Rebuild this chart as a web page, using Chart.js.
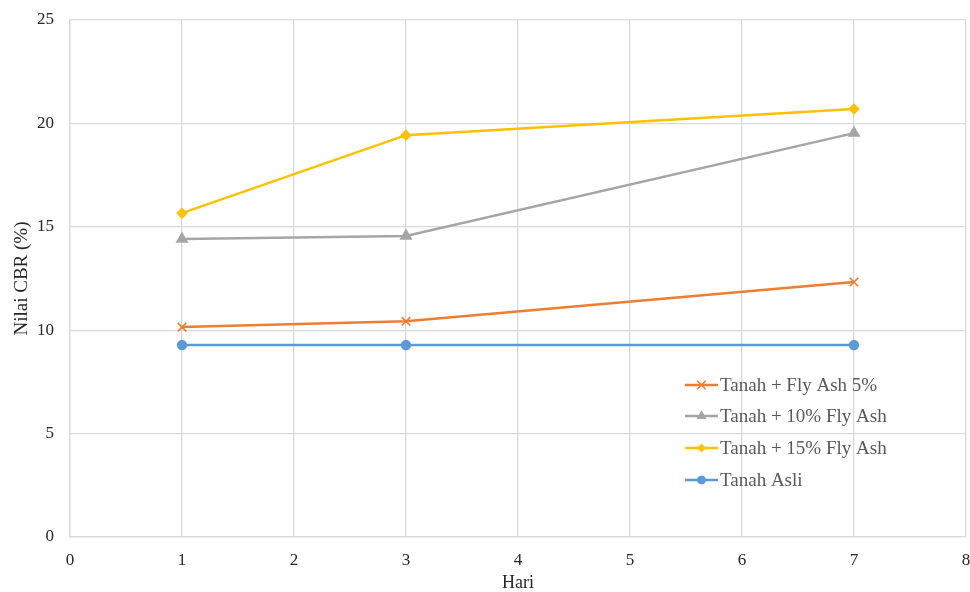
<!DOCTYPE html>
<html>
<head>
<meta charset="utf-8">
<script src="https://cdn.jsdelivr.net/npm/chart.js@4"></script>
<style>
  html, body { margin: 0; padding: 0; background: #ffffff; }
  #wrap { width: 970px; height: 592px; }
</style>
</head>
<body>
<div id="wrap"><canvas id="c" width="970" height="592"></canvas></div>
<script>
const days = [1, 3, 7];
const flyAsh5 = [10.15, 10.43, 12.33];
const flyAsh10 = [14.41, 14.56, 19.53];
const flyAsh15 = [15.66, 19.43, 20.70];
const tanahAsli = [9.28, 9.28, 9.28];
const seriesNames = ['Tanah + Fly Ash 5%', 'Tanah + 10% Fly Ash', 'Tanah + 15% Fly Ash', 'Tanah Asli'];
const xTitle = 'Hari';
const yTitle = 'Nilai CBR (%)';

const FONT = "'Liberation Serif', 'Times New Roman', serif";

function pts(vals) { return days.map((d, i) => ({ x: d, y: vals[i] })); }

const datasets = [
  { label: seriesNames[3], data: pts(tanahAsli), borderColor: '#5B9BD5', backgroundColor: '#5B9BD5', pointStyle: 'circle', pointRadius: 4, borderWidth: 2.5 },
  { label: seriesNames[0], data: pts(flyAsh5), borderColor: '#ED7D31', backgroundColor: '#ED7D31', pointStyle: 'crossRot', pointRadius: 6, pointBorderWidth: 1.6, borderWidth: 2.5 },
  { label: seriesNames[1], data: pts(flyAsh10), borderColor: '#A5A5A5', backgroundColor: '#A5A5A5', pointStyle: 'triangle', pointRadius: 5, borderWidth: 2.5 },
  { label: seriesNames[2], data: pts(flyAsh15), borderColor: '#FFC000', backgroundColor: '#FFC000', pointStyle: 'rectRot', pointRadius: 4, borderWidth: 2.5 }
];

const legendOrder = [1, 2, 3, 0];

const legendPlugin = {
  id: 'insideLegend',
  afterDraw(chart) {
    const ctx = chart.ctx;
    const startX = 685, lineLen = 33;
    const ys = [385, 416, 448, 480];
    ctx.save();
    legendOrder.forEach((di, k) => {
      const ds = chart.data.datasets[di];
      const y = ys[k];
      ctx.strokeStyle = ds.borderColor;
      ctx.lineWidth = 2.5;
      ctx.beginPath();
      ctx.moveTo(startX, y);
      ctx.lineTo(startX + lineLen, y);
      ctx.stroke();
      ctx.fillStyle = ds.backgroundColor;
      ctx.strokeStyle = ds.borderColor;
      ctx.lineWidth = ds.pointBorderWidth || 1;
      Chart.helpers.drawPoint(ctx, {
        pointStyle: ds.pointStyle,
        radius: ds.pointRadius,
        borderWidth: ds.pointBorderWidth || 1,
        rotation: 0
      }, startX + lineLen / 2, y);
      ctx.fillStyle = '#595959';
      ctx.font = '19px ' + FONT;
      ctx.textBaseline = 'middle';
      ctx.textAlign = 'left';
      ctx.fillText(ds.label, startX + lineLen + 2, y + 1);
    });
    ctx.restore();
  }
};

new Chart(document.getElementById('c'), {
  type: 'line',
  data: { datasets },
  options: {
    responsive: false,
    animation: false,
    layout: { autoPadding: false, padding: { top: 20, right: 4, left: 0, bottom: 0 } },
    plugins: { legend: { display: false }, tooltip: { enabled: false } },
    elements: { line: { tension: 0 } },
    scales: {
      x: {
        type: 'linear', min: 0, max: 8,
        ticks: { stepSize: 1, color: '#262626', font: { family: FONT, size: 17 }, padding: 13 },
        grid: { color: '#d9d9d9', lineWidth: 1.3, drawTicks: false },
        border: { color: '#d9d9d9', width: 1.3 },
        title: { display: true, text: xTitle, color: '#262626', font: { family: FONT, size: 18 }, padding: { top: 0, bottom: -2 } },
        afterFit(s) { s.height = 55; s.paddingLeft = 0; s.paddingRight = 0; }
      },
      y: {
        min: 0, max: 25,
        ticks: { stepSize: 5, color: '#262626', font: { family: FONT, size: 17 }, padding: 16 },
        grid: { color: '#d9d9d9', lineWidth: 1.3, drawTicks: false },
        border: { color: '#d9d9d9', width: 1.3 },
        title: { display: true, text: yTitle, color: '#262626', font: { family: FONT, size: 19 }, padding: { top: 11, bottom: 0 } },
        afterFit(s) { s.width = 70; s.paddingTop = 0; s.paddingBottom = 0; }
      }
    }
  },
  plugins: [legendPlugin]
});
</script>
</body>
</html>
